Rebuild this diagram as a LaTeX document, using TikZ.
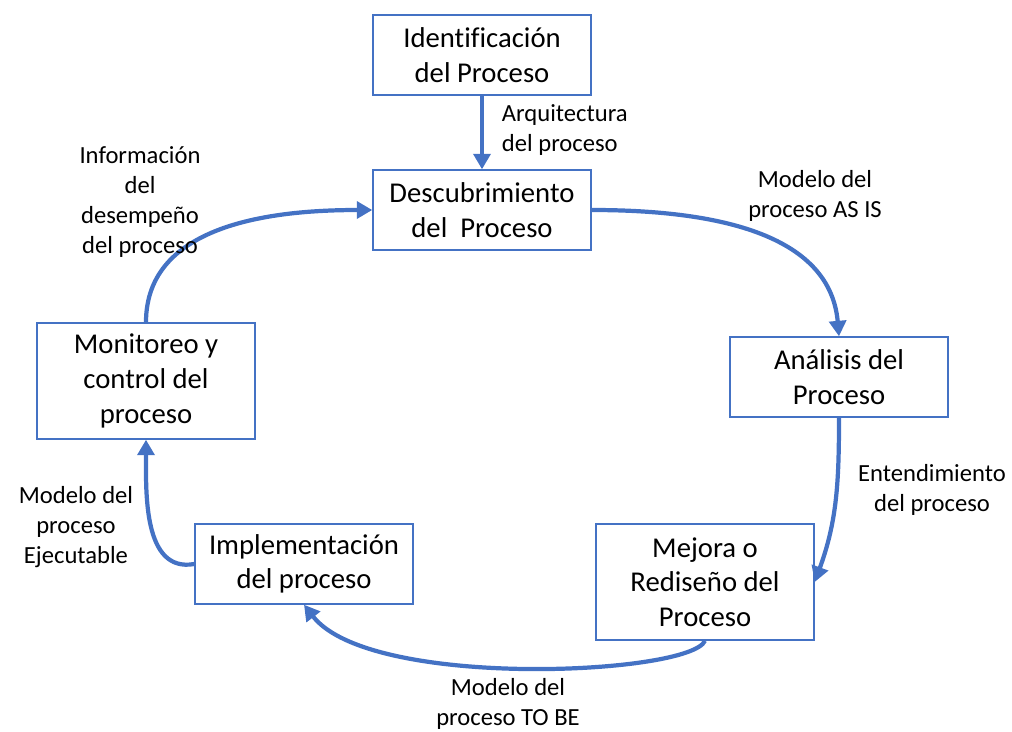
\documentclass[tikz,border=0pt]{standalone}
\usepackage{fontspec}
\setmainfont[Ligatures=CommonOff]{Carlito}
\usetikzlibrary{arrows.meta}

\definecolor{boxblue}{HTML}{4472C4}

\tikzset{
  proc/.style={draw=boxblue,line width=1pt,minimum width=5.45cm,minimum height=2cm,
    align=center,inner sep=2pt,font=\fontsize{20.4}{24.6}\selectfont},
  tallproc/.style={proc,minimum height=2.9cm},
  flow/.style={draw=boxblue,line width=3pt,-{Triangle[length=11pt,width=12pt]}},
  lbl/.style={align=center,font=\fontsize{17.5}{21.4}\selectfont}
}

\begin{document}
\begin{tikzpicture}[x=0.025cm,y=-0.025cm]
\useasboundingbox (0,0) rectangle (1012,731);

\node[proc] (ident) at (482,55) {Identificación\\del Proceso};
\node[proc] (desc) at (482,210) {Descubrimiento\\del\ \ Proceso};
\node[proc] (anal) at (839,377) {Análisis del\\Proceso};
\node[tallproc] (mejora) at (705,582) {Mejora o\\Rediseño del\\Proceso};
\node[proc] (impl) at (304,564) {Implementación\\del proceso};
\node[tallproc] (monit) at (146,381) {Monitoreo y\\control del\\proceso};

\draw[flow] (ident) -- (desc);
\draw[flow] (desc.east) to[out=0,in=95] (anal.north);
\draw[flow] (anal.south) to[out=-90,in=70] (mejora.east);
\draw[flow] (mejora.south) .. controls (690,675) and (370,690) .. (impl.south);
\draw[flow] (impl.west) to[out=190,in=-90] (monit.south);
\draw[flow] (monit.north) to[out=90,in=180] (desc.west);

\node[lbl,anchor=west,align=left] (arq) at (497,130) {Arquitectura\\del proceso};
\node[lbl] (asis) at (815,196) {Modelo del\\proceso AS IS};
\node[lbl] (entend) at (932,490) {Entendimiento\\del proceso};
\node[lbl] (tobe) at (508,704) {Modelo del\\proceso TO BE};
\node[lbl] (ejec) at (76,527) {Modelo del\\proceso\\Ejecutable};
\node[lbl] (info) at (140,202) {Información\\del\\desempeño\\del proceso};

\end{tikzpicture}
\end{document}
